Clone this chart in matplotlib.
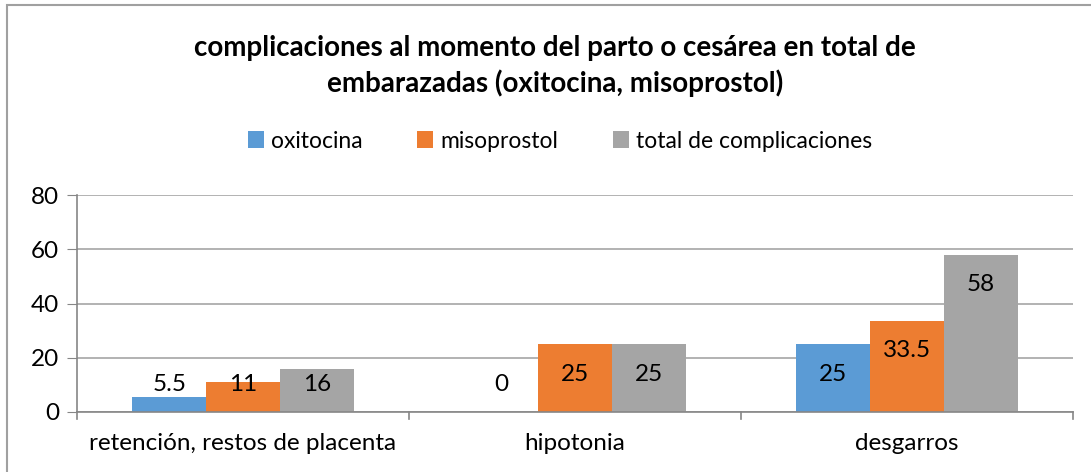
import matplotlib
matplotlib.use("Agg")
import matplotlib.pyplot as plt
import numpy as np
from matplotlib.patches import Rectangle

# data
categories = ["retención, restos de placenta", "hipotonia", "desgarros"]
oxitocina = [5.5, 0, 25]
misoprostol = [11, 25, 33.5]
total = [16, 25, 58]
series_names = ["oxitocina", "misoprostol", "total de complicaciones"]
colors = ["#5B9BD5", "#ED7D31", "#A5A5A5"]

plt.rcParams['font.family'] = ['Lato', 'DejaVu Sans']

fig = plt.figure(figsize=(10.91, 4.72), dpi=100)
ax = fig.add_axes([77 / 1091, 1 - 412 / 472, (1073 - 77) / 1091, (412 - 195) / 472])

x = np.arange(len(categories))
width = 0.222
all_series = [oxitocina, misoprostol, total]
for i, (vals, name, col) in enumerate(zip(all_series, series_names, colors)):
    pos = x + (i - 1) * width
    ax.bar(pos, vals, width, color=col, label=name, zorder=3)
    for p, v in zip(pos, vals):
        # label at the inside end, but never lower than a minimum height
        ly = max(v - 11, 10)
        ax.text(p, ly, f"{v:g}", ha='center', va='center', fontsize=17.5, color='black', zorder=4)

ax.set_xlim(-0.5, 2.5)
ax.set_ylim(0, 80)
ax.set_yticks([0, 20, 40, 60, 80])
ax.tick_params(axis='y', labelsize=17.5, length=7, color='#868686', pad=6)
ax.set_xticks(x)
ax.set_xticklabels(categories, fontsize=17.5)
ax.tick_params(axis='x', length=0, pad=15)
for sep in [-0.5, 0.5, 1.5, 2.5]:
    ax.plot([sep, sep], [0, -2.5], color='#868686', lw=1.2, clip_on=False, zorder=3)
ax.grid(axis='y', color='#A6A6A6', lw=1.2, zorder=0)
for s in ['top', 'right']:
    ax.spines[s].set_visible(False)
for s in ['left', 'bottom']:
    ax.spines[s].set_color('#868686')
    ax.spines[s].set_linewidth(1.2)
    ax.spines[s].set_zorder(3)

fig.text(555 / 1091, 1 - 66 / 472,
         "complicaciones al momento del parto o cesárea en total de\nembarazadas (oxitocina, misoprostol)",
         ha='center', va='center', fontsize=20, fontweight='bold', linespacing=1.4)

fig.legend(loc='center', bbox_to_anchor=(560 / 1091, 1 - 141 / 472), ncol=3, frameon=False,
           fontsize=16.5, handlelength=0.7, handleheight=0.7, handletextpad=0.3, columnspacing=2.4)

fig.patches.append(Rectangle((7 / 1091, -0.05), 1.2, 1 - 5 / 472 + 0.05, transform=fig.transFigure,
                             fill=False, edgecolor='#A0A0A0', lw=1.5))

fig.savefig("out.png", dpi=100)
